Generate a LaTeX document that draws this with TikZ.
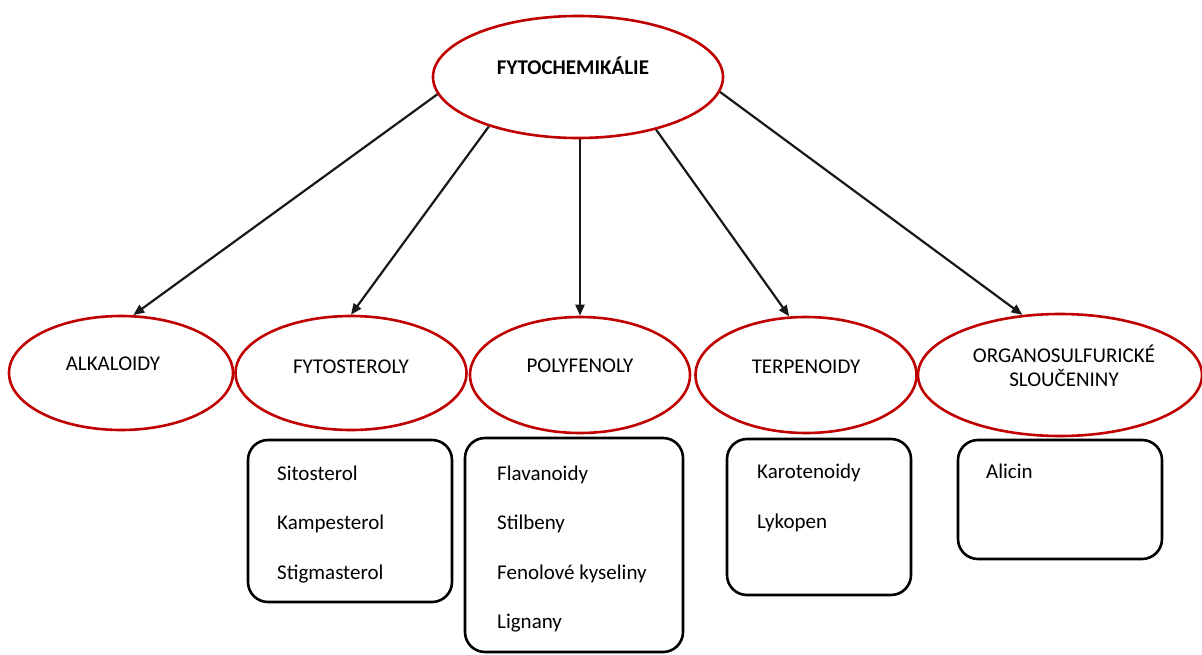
\documentclass[tikz,border=0pt]{standalone}
\usepackage{fontspec}
\setmainfont{Carlito}
\usetikzlibrary{shapes.geometric,arrows.meta}
\definecolor{ellred}{RGB}{192,0,0}
\definecolor{linegray}{RGB}{25,25,25}
\tikzset{
  oval/.style={ellipse, draw=ellred, line width=2.6pt, fill=white, inner sep=0pt},
  lbl/.style={font=\fontsize{21}{25}\selectfont, anchor=base, inner sep=0pt, align=center},
  itm/.style={font=\fontsize{21}{25}\selectfont, anchor=base west, inner sep=0pt},
  listbox/.style={draw=black, line width=2.6pt, rounded corners=20pt, inner sep=0pt},
  link/.style={draw=linegray, line width=2.2pt, -{Triangle[length=11pt,width=9pt]}}
}
\begin{document}
\begin{tikzpicture}[x=1pt,y=-1pt]
\useasboundingbox (0,0) rectangle (1202,655);
% ellipses
\node[oval, minimum width=290pt, minimum height=122pt] (top) at (578,77) {};
\node[oval, minimum width=224pt, minimum height=114pt] (alk) at (121,373) {};
\node[oval, minimum width=231pt, minimum height=114pt] (fyto) at (351,373) {};
\node[oval, minimum width=220pt, minimum height=116pt] (poly) at (580,375) {};
\node[oval, minimum width=221pt, minimum height=116pt] (terp) at (806,375) {};
\node[oval, minimum width=284pt, minimum height=122pt] (org) at (1060,375) {};
% labels
\node[lbl, font=\fontsize{21}{25}\selectfont\bfseries] (topT) at (573,75) {FYTOCHEMIKÁLIE};
\node[lbl] (alkT) at (113,370) {ALKALOIDY};
\node[lbl] (fytoT) at (351,373) {FYTOSTEROLY};
\node[lbl] (polyT) at (580,372) {POLYFENOLY};
\node[lbl] (terpT) at (806,373) {TERPENOIDY};
\node[lbl] (orgT1) at (1064,362) {ORGANOSULFURICKÉ};
\node[lbl] (orgT2) at (1064,386) {SLOUČENINY};
% arrows
\draw[link] (top.187) -- (alk.78);
\draw[link] (top.209) -- (fyto.90);
\draw[link] (poly.north |- top.south) -- (poly.north);
\draw[link] (top.326) -- (terp.106);
\draw[link] (top.354) -- (org.122);
% boxes
\node[listbox, minimum width=204pt, minimum height=162pt] (b1) at (350,521) {};
\node[listbox, minimum width=218pt, minimum height=214pt] (b2) at (574,545) {};
\node[listbox, minimum width=184pt, minimum height=156pt] (b3) at (819,517) {};
\node[listbox, minimum width=204pt, minimum height=119pt] (b4) at (1060,499.5) {};
% box items
\node[itm] (i11) at (277,480) {Sitosterol};
\node[itm] (i12) at (277,529) {Kampesterol};
\node[itm] (i13) at (277,579) {Stigmasterol};
\node[itm] (i21) at (497,480) {Flavanoidy};
\node[itm] (i22) at (497,529) {Stilbeny};
\node[itm] (i23) at (497,579) {Fenolové kyseliny};
\node[itm] (i24) at (497,628) {Lignany};
\node[itm] (i31) at (757,478) {Karotenoidy};
\node[itm] (i32) at (757,528) {Lykopen};
\node[itm] (i41) at (986,478) {Alicin};
\end{tikzpicture}
\end{document}
